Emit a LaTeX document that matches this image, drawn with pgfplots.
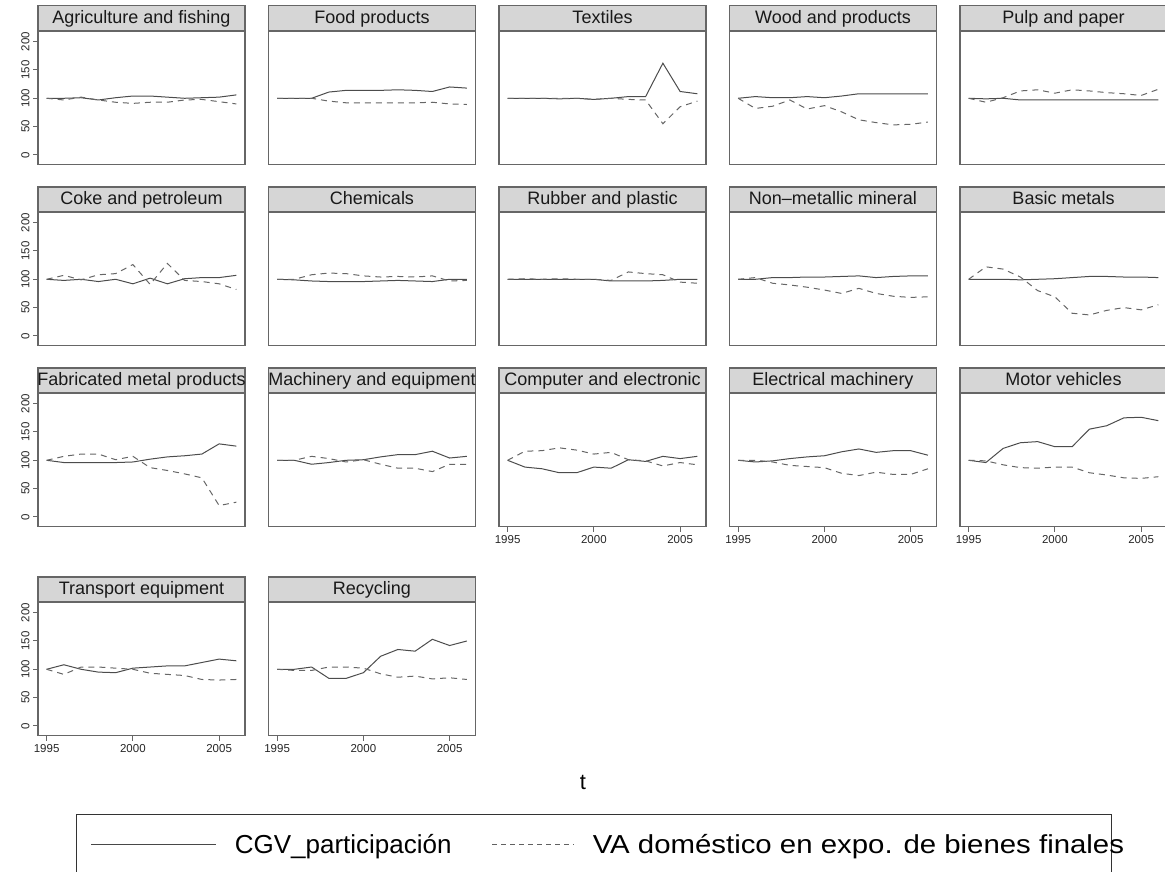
\documentclass[border=0pt]{standalone}
\usepackage{fontspec}
\setmainfont{Liberation Sans}
\usepackage{graphicx}
\usepackage{pgfplots}
\usepackage{pgfplotstable}
\pgfplotsset{compat=1.18}

\pgfplotstableread{
year agr food tex wood pulp coke chem rub nonm basic fab mach comp elec motor trans rec
1995 100 100 100 100 100 100 100 100 100 100 100 100 100 100 100 100 100
1996 100 100 100 103 99 98 99 100 100 100 96 100 88 97 96 108 100
1997 101 100 100 101 100 100 97 100 103 100 96 93 85 99 121 100 104
1998 97 111 99 101 97 96 96 100 103 99 96 96 78 103 131 95 84
1999 101 114 100 103 97 100 96 100 104 100 96 100 78 106 133 94 84
2000 104 114 98 101 97 92 96 100 104 101 97 101 88 108 124 102 94
2001 104 114 100 104 97 102 97 97 105 103 102 106 86 115 124 104 123
2002 102 115 103 108 97 92 98 97 106 105 106 110 101 120 155 106 135
2003 100 114 103 108 97 101 97 97 103 105 108 110 98 114 161 106 132
2004 101 112 162 108 97 103 96 98 105 104 111 116 107 117 175 112 153
2005 102 120 112 108 97 103 100 100 106 104 129 104 103 117 176 118 142
2006 106 118 108 108 97 107 100 100 106 103 125 107 107 109 170 115 150
}\cgv

\pgfplotstableread{
year agr food tex wood pulp coke chem rub nonm basic fab mach comp elec motor trans rec
1995 100 100 100 100 100 100 100 100 100 100 100 100 100 100 100 100 100
1996 97 100 100 82 93 107 100 101 103 122 107 100 116 100 99 91 98
1997 102 100 100 86 101 99 108 100 93 118 111 107 117 97 92 104 98
1998 97 95 100 97 113 108 111 101 90 104 111 103 122 91 87 104 104
1999 93 92 100 81 115 110 110 100 86 80 101 97 118 89 86 102 104
2000 91 92 98 87 109 126 106 100 81 69 107 101 111 87 88 100 102
2001 93 92 100 76 115 91 104 98 75 40 87 93 114 77 88 93 92
2002 93 92 98 62 113 128 105 113 84 37 82 86 101 73 78 91 86
2003 97 92 97 57 110 98 104 110 75 45 76 86 99 79 74 89 88
2004 98 93 55 53 108 96 106 108 70 50 69 80 90 75 69 82 83
2005 94 90 85 54 105 92 97 95 68 46 20 93 96 75 68 81 85
2006 90 89 95 58 116 82 98 93 69 55 26 93 92 85 71 82 82
}\vad

\pgfplotsset{
  panel/.style={
    scale only axis, width=207bp, height=133bp, anchor=south west,
    xmin=1994.5, xmax=2006.5, ymin=-17, ymax=218,
    xtick=\empty, ytick=\empty,
    tick align=outside, major tick length=5bp,
    xtick pos=bottom, ytick pos=left,
    axis line style={draw=black!60, line width=1.2bp},
    tick style={draw=black!60, line width=1bp},
    tick label style={font=\fontsize{11.5bp}{13bp}\selectfont, text=black!85},
    /pgf/number format/1000 sep={},
    /pgf/number format/assume math mode=true,
    every axis title shift=0pt,
    title style={at={(0.5,1)}, anchor=south, yshift=0pt, fill=black!16, draw=black!60,
      line width=1.2bp, minimum width=207bp, minimum height=25bp,
      text height=13.5bp, text depth=3.5bp,
      inner sep=0pt, font=\fontsize{18bp}{20bp}\selectfont, text=black!90},
  },
  xon/.style={xtick={1995,2000,2005}},
  yon/.style={ytick={0,50,100,150,200}, yticklabel style={rotate=90, anchor=south}},
  solidline/.style={black!70, line width=1bp, no marks,
    legend image code/.code={\draw[black!72, line width=1.2bp] (0bp,9bp) -- (125bp,9bp);}},
  dashline/.style={black!60, line width=1bp, no marks, dash pattern=on 6bp off 5bp,
    legend image code/.code={\draw[black!62, line width=1.2bp, dash pattern=on 5bp off 4bp] (0bp,9bp) -- (82bp,9bp);}},
}

\newcommand{\panel}[5]{%
\begin{axis}[panel, at={(#1bp,-#2bp)}, title={\makebox[0pt]{#3}}, #5]
\addplot[solidline] table[x=year,y=#4]{\cgv};
\addplot[dashline] table[x=year,y=#4]{\vad};
\end{axis}}

\begin{document}
\begin{tikzpicture}
\path[use as bounding box] (0bp,0bp) rectangle (1165bp,-872bp);
% row 1
\panel{38}{164.5}{Agriculture and fishing}{agr}{yon}
\panel{268.5}{164.5}{Food products}{food}{}
\panel{499}{164.5}{Textiles}{tex}{}
\panel{729.5}{164.5}{Wood and products}{wood}{}
\panel{960}{164.5}{Pulp and paper}{pulp}{}
% row 2
\panel{38}{345.5}{Coke and petroleum}{coke}{yon}
\panel{268.5}{345.5}{Chemicals}{chem}{}
\panel{499}{345.5}{Rubber and plastic}{rub}{}
\panel{729.5}{345.5}{Non\textendash metallic mineral}{nonm}{}
\panel{960}{345.5}{Basic metals}{basic}{}
% row 3
\panel{38}{526.5}{Fabricated metal products}{fab}{yon}
\panel{268.5}{526.5}{Machinery and equipment}{mach}{}
\panel{499}{526.5}{Computer and electronic}{comp}{xon}
\panel{729.5}{526.5}{Electrical machinery}{elec}{xon}
\panel{960}{526.5}{Motor vehicles}{motor}{xon}
% row 4
\panel{38}{735.5}{Transport equipment}{trans}{xon,yon}
\panel{268.5}{735.5}{Recycling}{rec}{xon,
  legend columns=2,
  legend entries={CGV\_participación,{\makebox[505bp][l]{\scalebox{1.13}[1]{VA doméstico en expo. de bienes finales}}}},
  legend style={at={(-0.93,-0.59)}, anchor=north west, draw=black!80, line width=1.2bp,
    font=\fontsize{26bp}{30bp}\selectfont, inner xsep=14bp, inner ysep=20bp,
    nodes={inner sep=0pt, anchor=base west},
    /tikz/every odd column/.append style={column sep=18bp},
    /tikz/every even column/.append style={column sep=40bp}},
  legend cell align=left}
\node[font=\fontsize{22bp}{24bp}\selectfont] at (583bp,-782bp) {t};
\end{tikzpicture}
\end{document}
